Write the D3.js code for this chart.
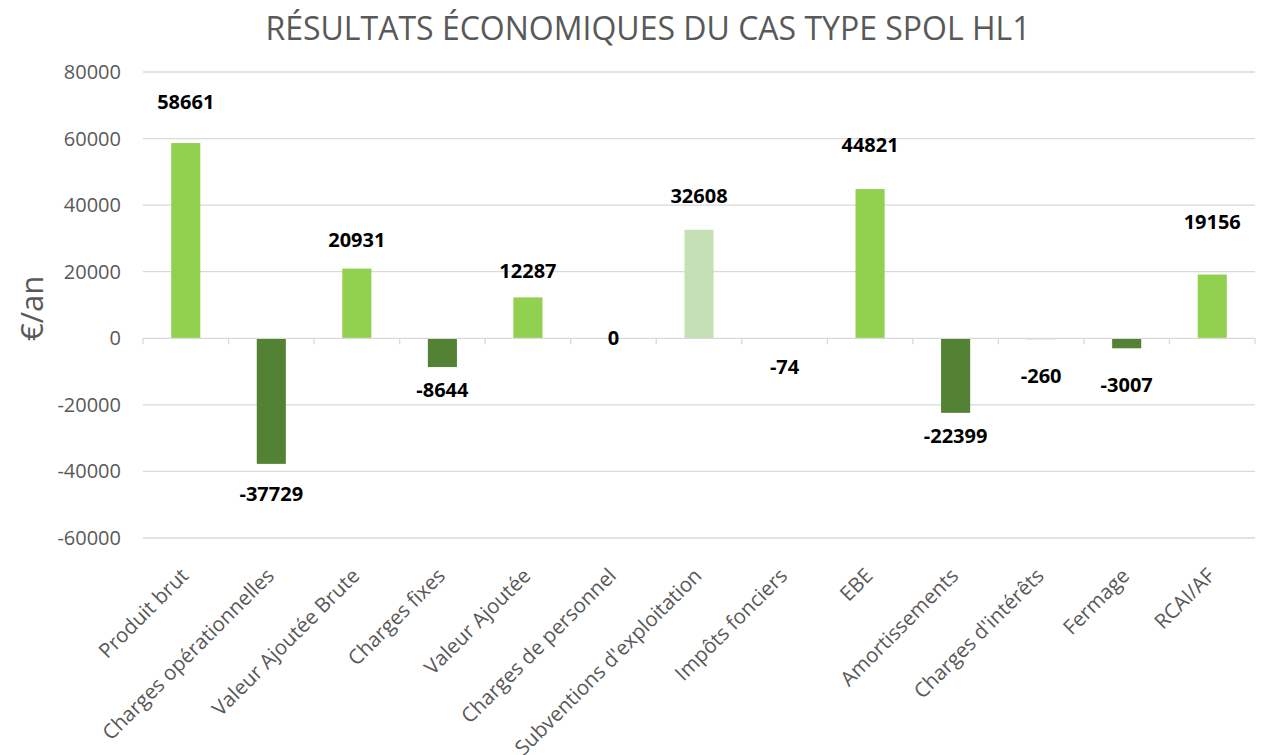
<!DOCTYPE html>
<html>
<head>
<meta charset="utf-8">
<script src="https://cdn.jsdelivr.net/npm/d3@7"></script>
<style>
  body { margin: 0; background: #fff; }
  text { font-family: "Open Sans", sans-serif; }
</style>
</head>
<body>
<svg id="chart" width="1263" height="755"></svg>
<script>
const categories = ["Produit brut", "Charges opérationnelles", "Valeur Ajoutée Brute", "Charges fixes",
  "Valeur Ajoutée", "Charges de personnel", "Subventions d'exploitation", "Impôts fonciers", "EBE",
  "Amortissements", "Charges d'intérêts", "Fermage", "RCAI/AF"];
const values = [58661, -37729, 20931, -8644, 12287, 0, 32608, -74, 44821, -22399, -260, -3007, 19156];
const kinds = ["result", "charge", "result", "charge", "result", "charge", "aid", "charge", "result",
  "charge", "charge", "charge", "result"];
const yTicks = [-60000, -40000, -20000, 0, 20000, 40000, 60000, 80000];

// label offsets (px from the bar end to the label centre), as placed in the original
const labelGap = [41, 30, 29, 23, 26, 0, 34, 28, 44, 23, 37, 37, 53];

const colors = { result: "#92D050", charge: "#548235", aid: "#C5E0B4" };

const svg = d3.select("#chart");
const plotLeft = 143, plotRight = 1255, plotTop = 72, plotBottom = 538;

const x = d3.scaleBand().domain(categories).range([plotLeft, plotRight]).paddingInner(0.66).paddingOuter(0.33);
const y = d3.scaleLinear().domain([-60000, 80000]).range([plotBottom, plotTop]);

svg.append("text")
  .attr("x", 648).attr("y", 40)
  .attr("text-anchor", "middle")
  .attr("fill", "#595959")
  .attr("font-size", 32)
  .text("RÉSULTATS ÉCONOMIQUES DU CAS TYPE SPOL HL1");

// grid
svg.append("g").selectAll("line")
  .data(yTicks.filter(d => d !== 0))
  .enter().append("line")
  .attr("x1", plotLeft).attr("x2", plotRight)
  .attr("y1", d => y(d)).attr("y2", d => y(d))
  .attr("stroke", "#d9d9d9").attr("stroke-width", 1.3);

// y axis labels
svg.append("g").selectAll("text")
  .data(yTicks)
  .enter().append("text")
  .attr("x", 121).attr("y", d => y(d) + 7)
  .attr("text-anchor", "end")
  .attr("fill", "#595959")
  .attr("font-size", 20)
  .text(d => d);

svg.append("text")
  .attr("transform", `translate(43,${y(9000)}) rotate(-90)`)
  .attr("text-anchor", "middle")
  .attr("fill", "#595959")
  .attr("font-size", 31)
  .text("€/an");

// bars
svg.append("g").selectAll("rect")
  .data(values)
  .enter().append("rect")
  .attr("x", (d, i) => x(categories[i]))
  .attr("width", x.bandwidth())
  .attr("y", d => y(Math.max(0, d)))
  .attr("height", d => Math.abs(y(d) - y(0)))
  .attr("fill", (d, i) => colors[kinds[i]]);

// zero axis + ticks
svg.append("line")
  .attr("x1", plotLeft).attr("x2", plotRight)
  .attr("y1", y(0)).attr("y2", y(0))
  .attr("stroke", "#d9d9d9").attr("stroke-width", 1.3);

const step = x.step();
svg.append("g").selectAll("line")
  .data(d3.range(categories.length + 1))
  .enter().append("line")
  .attr("x1", i => plotLeft + i * step).attr("x2", i => plotLeft + i * step)
  .attr("y1", y(0)).attr("y2", y(0) + 6)
  .attr("stroke", "#d9d9d9").attr("stroke-width", 1.3);

// value labels
svg.append("g").selectAll("text")
  .data(values)
  .enter().append("text")
  .attr("x", (d, i) => x(categories[i]) + x.bandwidth() / 2)
  .attr("y", (d, i) => (d >= 0 ? y(d) - labelGap[i] : y(d) + labelGap[i]) + 7)
  .attr("text-anchor", "middle")
  .attr("font-weight", "bold")
  .attr("font-size", 20)
  .attr("fill", "#000")
  .text(d => d);

// category labels
svg.append("g").selectAll("text")
  .data(categories)
  .enter().append("text")
  .attr("transform", d => `translate(${x(d) + x.bandwidth() / 2 + 4},${plotBottom + 39}) rotate(-45)`)
  .attr("text-anchor", "end")
  .attr("fill", "#595959")
  .attr("font-size", 20.5)
  .text(d => d);
</script>
</body>
</html>
